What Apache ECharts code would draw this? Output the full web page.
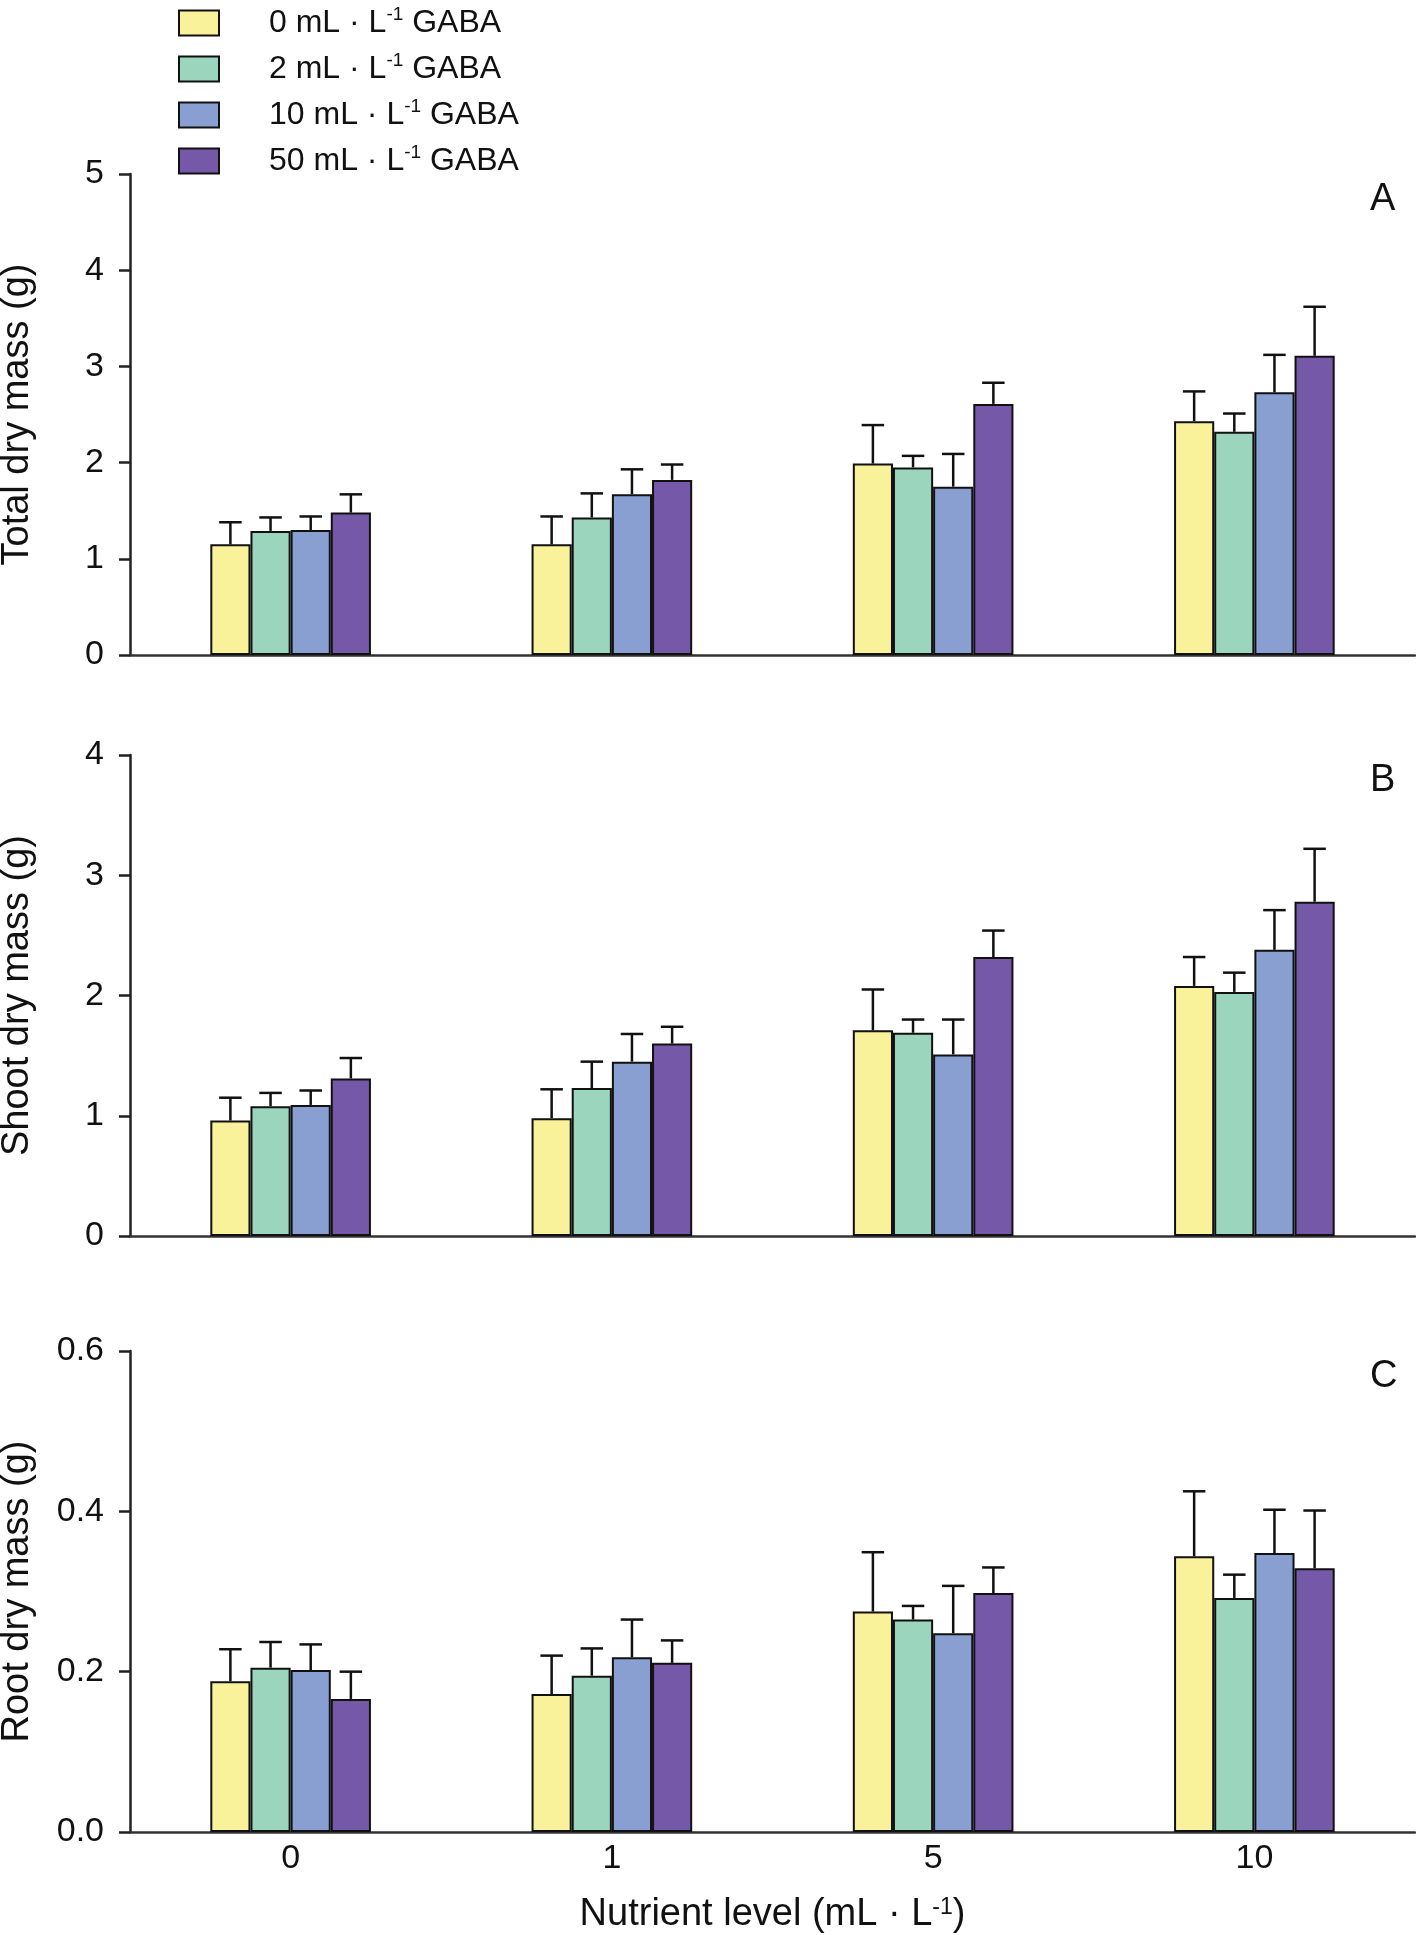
<!DOCTYPE html>
<html lang="en">
<head>
  <meta charset="UTF-8">
  <title>Dry mass by nutrient level and GABA</title>
  <script src="https://cdn.jsdelivr.net/npm/echarts@6/dist/echarts.min.js"></script>
  <style>
    html, body { margin: 0; padding: 0; background: #fff; }
    #chart { width: 1416px; height: 1935px; }
  </style>
</head>
<body>
<div id="chart"></div>
<script>
  // nutrient levels (mL·L-1) on the x axis
  const categories = ['0', '1', '5', '10'];
  // GABA doses, one bar series each
  const doses = ['0', '2', '10', '50'];
  const colors = ['#F9F29B', '#9BD5BE', '#899FD2', '#7558A7'];

  // A - total dry mass (g): means per dose, then upper error
  const totalMean = [
    [1.15, 1.15, 1.99, 2.43],
    [1.29, 1.43, 1.95, 2.32],
    [1.30, 1.67, 1.75, 2.73],
    [1.48, 1.82, 2.61, 3.11]
  ];
  const totalErr = [
    [0.23, 0.29, 0.40, 0.31],
    [0.14, 0.25, 0.12, 0.19],
    [0.14, 0.26, 0.34, 0.39],
    [0.19, 0.16, 0.22, 0.51]
  ];

  // B - shoot dry mass (g)
  const shootMean = [
    [0.96, 0.98, 1.71, 2.08],
    [1.08, 1.23, 1.69, 2.03],
    [1.09, 1.45, 1.51, 2.38],
    [1.31, 1.60, 2.32, 2.78]
  ];
  const shootErr = [
    [0.19, 0.24, 0.34, 0.24],
    [0.11, 0.22, 0.11, 0.16],
    [0.12, 0.23, 0.29, 0.33],
    [0.17, 0.14, 0.22, 0.44]
  ];

  // C - root dry mass (g)
  const rootMean = [
    [0.188, 0.172, 0.275, 0.344],
    [0.205, 0.195, 0.265, 0.292],
    [0.202, 0.218, 0.248, 0.348],
    [0.166, 0.211, 0.298, 0.329]
  ];
  const rootErr = [
    [0.040, 0.048, 0.074, 0.081],
    [0.032, 0.034, 0.017, 0.029],
    [0.032, 0.047, 0.059, 0.054],
    [0.034, 0.028, 0.032, 0.072]
  ];

  const panels = [
    { letter: 'A', name: 'Total dry mass (g)', mean: totalMean, err: totalErr, max: 5, step: 1, digits: 0, top: 174 },
    { letter: 'B', name: 'Shoot dry mass (g)', mean: shootMean, err: shootErr, max: 4, step: 1, digits: 0, top: 755 },
    { letter: 'C', name: 'Root dry mass (g)', mean: rootMean, err: rootErr, max: 0.6, step: 0.2, digits: 1, top: 1351 }
  ];

  const FONT = '"Liberation Sans", Arial, sans-serif';
  const INK = '#111';
  const BAR_FRAC = 0.125;

  const seriesName = d => d + ' mL·L-1 GABA';

  const grid = [], xAxis = [], yAxis = [], series = [], title = [];

  panels.forEach((p, g) => {
    grid.push({ left: 130, right: 1, top: p.top, height: 481, containLabel: false, outerBoundsMode: 'none' });

    xAxis.push({
      type: 'category',
      gridIndex: g,
      data: categories,
      axisLine: { lineStyle: { color: '#333', width: 2.5 } },
      axisTick: { show: false },
      axisLabel: {
        show: g === 2, margin: 10,
        fontSize: 34, color: INK, fontFamily: FONT
      },
      name: g === 2 ? 'Nutrient level (mL · L{sup|-1})' : '',
      nameLocation: 'middle',
      nameGap: 64,
      nameTextStyle: {
        fontSize: 38, color: INK, fontFamily: FONT,
        rich: {
          sup: { fontSize: 23, color: INK, fontFamily: FONT, verticalAlign: 'top', lineHeight: 22 }
        }
      }
    });

    yAxis.push({
      type: 'value',
      gridIndex: g,
      min: 0, max: p.max, interval: p.step,
      splitLine: { show: false },
      axisLine: { show: true, lineStyle: { color: '#222', width: 2.5 } },
      axisTick: { show: true, length: 11, lineStyle: { color: '#222', width: 2.5 } },
      axisLabel: {
        margin: 26, fontSize: 34, color: INK, fontFamily: FONT,
        formatter: v => v.toFixed(p.digits)
      },
      name: p.name,
      nameLocation: 'middle',
      nameGap: 93,
      nameTextStyle: { fontSize: 38, color: INK, fontFamily: FONT }
    });

    title.push({
      text: p.letter,
      left: 1365,
      top: p.top + 2,
      textStyle: { fontSize: 38, fontWeight: 'normal', color: INK, fontFamily: FONT }
    });

    doses.forEach((d, k) => {
      series.push({
        name: seriesName(d),
        type: 'bar',
        xAxisIndex: g, yAxisIndex: g,
        data: p.mean[k],
        barWidth: (BAR_FRAC * 100) + '%',
        barGap: '0%',
        itemStyle: { color: colors[k], borderColor: INK, borderWidth: 2 },
        emphasis: { disabled: true }
      });

      // upper error bars, drawn on the same axes as the bars
      series.push({
        name: seriesName(d),
        type: 'custom',
        xAxisIndex: g, yAxisIndex: g,
        z: 5,
        silent: true,
        data: p.mean[k].map((m, i) => [i, m, m + p.err[k][i]]),
        renderItem: (params, api) => {
          const base = api.coord([api.value(0), api.value(1)]);
          const top = api.coord([api.value(0), api.value(2)]);
          const band = api.size([1, 0])[0];
          const barW = band * BAR_FRAC;
          const x = base[0] + (k - 1.5) * barW;
          const half = barW * 0.28;
          const style = { stroke: INK, lineWidth: 2.5 };
          return {
            type: 'group',
            children: [
              { type: 'line', shape: { x1: x, y1: base[1], x2: x, y2: top[1] }, style },
              { type: 'line', shape: { x1: x - half, y1: top[1], x2: x + half, y2: top[1] }, style }
            ]
          };
        }
      });
    });
  });

  const chart = echarts.init(document.getElementById('chart'), null, { renderer: 'canvas' });
  chart.setOption({
    animation: false,
    color: colors,
    title,
    legend: {
      orient: 'vertical',
      left: 173,
      top: 0,
      icon: 'rect',
      itemWidth: 40,
      itemHeight: 25,
      itemGap: 12,
      data: doses.map(seriesName),
      itemStyle: { borderColor: INK, borderWidth: 2 },
      formatter: name => '{pad|}{n|' + name.split(' ')[0] + ' mL · L}{sup|-1}{n| GABA}',
      textStyle: {
        rich: {
          pad: { width: 45 },
          n: { fontSize: 32, color: INK, fontFamily: FONT, lineHeight: 36 },
          sup: { fontSize: 19, color: INK, fontFamily: FONT, lineHeight: 18, verticalAlign: 'top' }
        }
      }
    },
    grid,
    xAxis,
    yAxis,
    series
  });
</script>
</body>
</html>
